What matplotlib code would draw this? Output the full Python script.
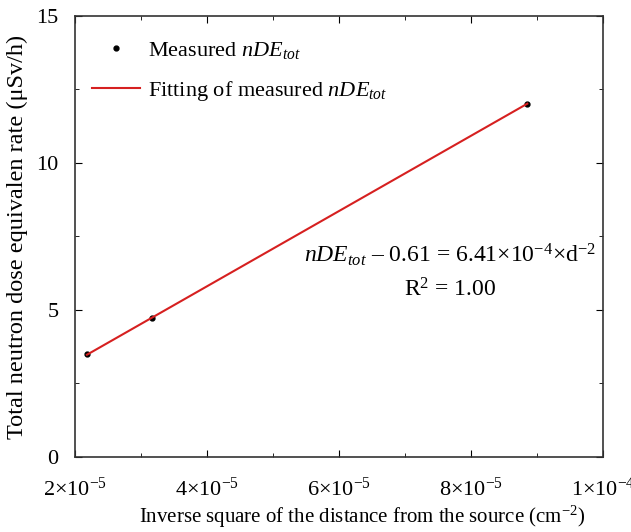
import numpy as np
import matplotlib.pyplot as plt
from matplotlib.ticker import MultipleLocator, FuncFormatter

plt.rcParams['font.family'] = ['Liberation Serif', 'DejaVu Serif']
plt.rcParams['mathtext.fontset'] = 'custom'
plt.rcParams['mathtext.rm'] = 'Liberation Serif'
plt.rcParams['mathtext.it'] = 'Liberation Serif:italic'

# Данные
inv_sq_dist = np.array([2.18e-5, 3.17e-5, 8.85e-5])   # см^-2
dose_rate = np.array([3.5, 4.72, 12.02])               # мкЗв/ч

x_ticks = [2e-5, 4e-5, 6e-5, 8e-5, 1e-4]
y_ticks = [0, 5, 10, 15]

# Линейная аппроксимация
k, b = np.polyfit(inv_sq_dist, dose_rate, 1)
x_fit = np.array([inv_sq_dist.min(), inv_sq_dist.max()])
y_fit = k * x_fit + b

fig, ax = plt.subplots(figsize=(6.31, 5.32), dpi=100)
fig.subplots_adjust(left=0.119, right=0.956, top=0.97, bottom=0.141)

ax.plot(inv_sq_dist, dose_rate, 'o', color='black', markersize=3.5,
        label=r'Measured $nDE_{tot}$')
ax.plot(x_fit, y_fit, '-', color='#d62020', linewidth=1.5,
        label=r'Fitting of measured $nDE_{tot}$')


def sci_fmt(v, pos):
    e = int(np.floor(np.log10(v)))
    m = v / 10 ** e
    return r'$%d{\times}10^{%d}$' % (round(m), e)


ax.set_xlim(2e-5, 1e-4)
ax.set_ylim(0, 15)
ax.set_xticks(x_ticks)
ax.set_yticks(y_ticks)
ax.xaxis.set_major_formatter(FuncFormatter(sci_fmt))
ax.xaxis.set_minor_locator(MultipleLocator(1e-5))
ax.yaxis.set_minor_locator(MultipleLocator(2.5))
ax.tick_params(which='both', direction='in', top=True, right=True,
               labeltop=False, labelright=False, labelsize=16)
ax.tick_params(axis='y', pad=12)
ax.tick_params(axis='x', pad=15)
ax.tick_params(which='major', length=5)
ax.tick_params(which='minor', length=3)
for s in ax.spines.values():
    s.set_linewidth(1.2)
    s.set_color('#333333')

ax.set_xlabel(r'Inverse square of the distance from the source (cm$^{-2}$)',
              fontsize=15)
ax.xaxis.set_label_coords(0.543, -0.106)
ax.set_ylabel('Total neutron dose equivalen rate (μSv/h)', fontsize=17.5,
              labelpad=6)

ax.text(0.71, 0.458, r'$nDE_{tot}$ – 0.61 = 6.41×10$^{-4}$×d$^{-2}$',
        transform=ax.transAxes, ha='center', va='center', fontsize=17)
ax.text(0.71, 0.379, r'R$^2$ = 1.00', transform=ax.transAxes,
        ha='center', va='center', fontsize=17)

ax.legend(loc='upper left', bbox_to_anchor=(0.0, 0.984), frameon=False,
          fontsize=16, handlelength=2.16, borderaxespad=0.36,
          handletextpad=0.36, labelspacing=0.8)

plt.savefig('out.png', dpi=100)
